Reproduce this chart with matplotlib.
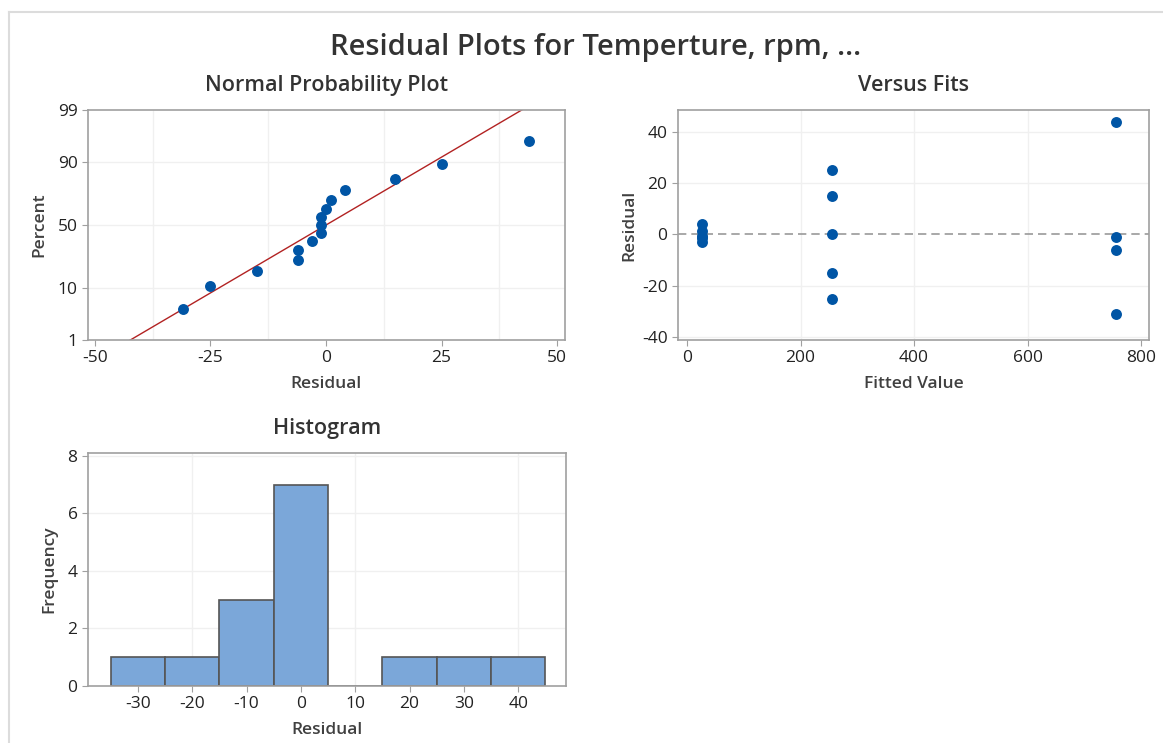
import matplotlib
matplotlib.use('Agg')
import matplotlib.pyplot as plt
import numpy as np
from statistics import NormalDist

plt.rcParams['font.family'] = ['Open Sans', 'DejaVu Sans']
plt.rcParams['axes.unicode_minus'] = False

# residuals
resid = [-31, -25, -15, -6, -6, -3, -1, -1, -1, 0, 1, 4, 15, 25, 44]
# fitted values / residuals
fits = [27, 27, 27, 27, 27, 255, 255, 255, 255, 255, 755, 755, 755, 755]
fit_resid = [4, 1.5, -0.5, -1.5, -3, 25, 15, 0, -15, -25, 44, -1, -6, -31]
# histogram bins and counts
bin_edges = [-35, -25, -15, -5, 5, 15, 25, 35, 45]
counts = [1, 1, 3, 7, 0, 1, 1, 1]

line_mu = 0.0
line_sigma = 18.2

W, H = 1163, 743
fig = plt.figure(figsize=(W / 100, H / 100), dpi=100)

def box(l, r, t, b):
    return [l / W, (H - b) / H, (r - l) / W, (b - t) / H]

nd = NormalDist()
def fwd(p):
    p = np.clip(np.asarray(p, dtype=float), 1e-6, 100 - 1e-6)
    return np.array([nd.inv_cdf(v / 100.0) for v in p.ravel()]).reshape(p.shape)
def inv(z):
    z = np.asarray(z, dtype=float)
    return np.array([nd.cdf(v) * 100.0 for v in z.ravel()]).reshape(z.shape)

spine_c = '#a0a0a0'
grid_c = '#f0f0f0'
dot_c = '#0055a5'
tick_kw = dict(labelsize=12.5, colors='#222222', length=4, width=0.8)
lab_kw = dict(fontsize=12.5, fontweight='semibold', color='#404040')
ttl_kw = dict(fontsize=15.5, fontweight='semibold', color='#333333', pad=14)

def style(ax):
    for s in ax.spines.values():
        s.set_color(spine_c)
        s.set_linewidth(1.2)
    ax.tick_params(**tick_kw)
    ax.tick_params(axis='both', color=spine_c)
    for lbl in ax.get_xticklabels() + ax.get_yticklabels():
        lbl.set_color('#222222')

# normal probability plot
ax1 = fig.add_axes(box(88, 565, 110, 340))
ax1.set_yscale('function', functions=(fwd, inv))
n = len(resid)
pct = [(i + 1 - 0.3) / (n + 0.4) * 100 for i in range(n)]
xs = np.array([-60.0, 60.0])
ax1.plot(xs, inv((xs - line_mu) / line_sigma), color='#b22222', lw=1.0, zorder=2)
ax1.scatter(sorted(resid), pct, s=62, color=dot_c, zorder=3, linewidths=0)
ax1.set_xlim(-51.5, 51.7)
ax1.set_ylim(1, 99)
ax1.set_xticks([-50, -25, 0, 25, 50])
ax1.set_yticks([1, 10, 50, 90, 99])
ax1.set_yticklabels(['1', '10', '50', '90', '99'])
ax1.minorticks_off()
for g in [-37.5, -12.5, 12.5, 37.5]:
    ax1.axvline(g, color=grid_c, lw=1, zorder=0)
for g in [10, 50, 90]:
    ax1.axhline(g, color=grid_c, lw=1, zorder=0)
ax1.set_xlabel('Residual', labelpad=7, **lab_kw)
ax1.set_ylabel('Percent', labelpad=7, **lab_kw)
ax1.set_title('Normal Probability Plot', **ttl_kw)
style(ax1)

# versus fits
ax2 = fig.add_axes(box(678, 1149, 110, 340))
ax2.axhline(0, color='#999999', lw=1.2, ls=(0, (5, 3)), zorder=1)
ax2.scatter(fits, fit_resid, s=62, color=dot_c, zorder=3, linewidths=0)
ax2.set_xlim(-16, 814)
ax2.set_ylim(-41.2, 48.6)
ax2.set_xticks([0, 200, 400, 600, 800])
ax2.set_yticks([-40, -20, 0, 20, 40])
for g in [200, 400, 600]:
    ax2.axvline(g, color=grid_c, lw=1, zorder=0)
for g in [-40, -20, 20, 40]:
    ax2.axhline(g, color=grid_c, lw=1, zorder=0)
ax2.set_xlabel('Fitted Value', labelpad=7, **lab_kw)
ax2.set_ylabel('Residual', labelpad=3, **lab_kw)
ax2.set_title('Versus Fits', **ttl_kw)
style(ax2)

# histogram
ax3 = fig.add_axes(box(88, 566, 453, 686))
centers = [(bin_edges[i] + bin_edges[i + 1]) / 2 for i in range(len(counts))]
widths = [bin_edges[i + 1] - bin_edges[i] for i in range(len(counts))]
ax3.bar(centers, counts, width=widths, color='#7ba7d9', edgecolor='#555555',
        linewidth=1.2, zorder=2)
ax3.set_xlim(-39.2, 48.8)
ax3.set_ylim(0, 8.1)
ax3.set_xticks([-30, -20, -10, 0, 10, 20, 30, 40])
ax3.set_yticks([0, 2, 4, 6, 8])
for g in [-20, 10, 40]:
    ax3.axvline(g, color=grid_c, lw=1, zorder=0)
for g in [2, 4, 6, 8]:
    ax3.axhline(g, color=grid_c, lw=1, zorder=0)
ax3.set_xlabel('Residual', labelpad=7, **lab_kw)
ax3.set_ylabel('Frequency', labelpad=7, **lab_kw)
ax3.set_title('Histogram', **ttl_kw)
style(ax3)

fig.text(596 / W, 1 - 47 / H, 'Residual Plots for Temperture, rpm, ...',
         ha='center', va='center', fontsize=21, fontweight='semibold',
         color='#333333')

# outer frame
fig.add_artist(plt.Line2D([9 / W, 9 / W], [0, 1 - 12 / H], color='#dcdcdc',
                          lw=1.5, transform=fig.transFigure))
fig.add_artist(plt.Line2D([9 / W, 1], [1 - 12 / H, 1 - 12 / H], color='#dcdcdc',
                          lw=1.5, transform=fig.transFigure))

fig.savefig('out.png', dpi=100)
